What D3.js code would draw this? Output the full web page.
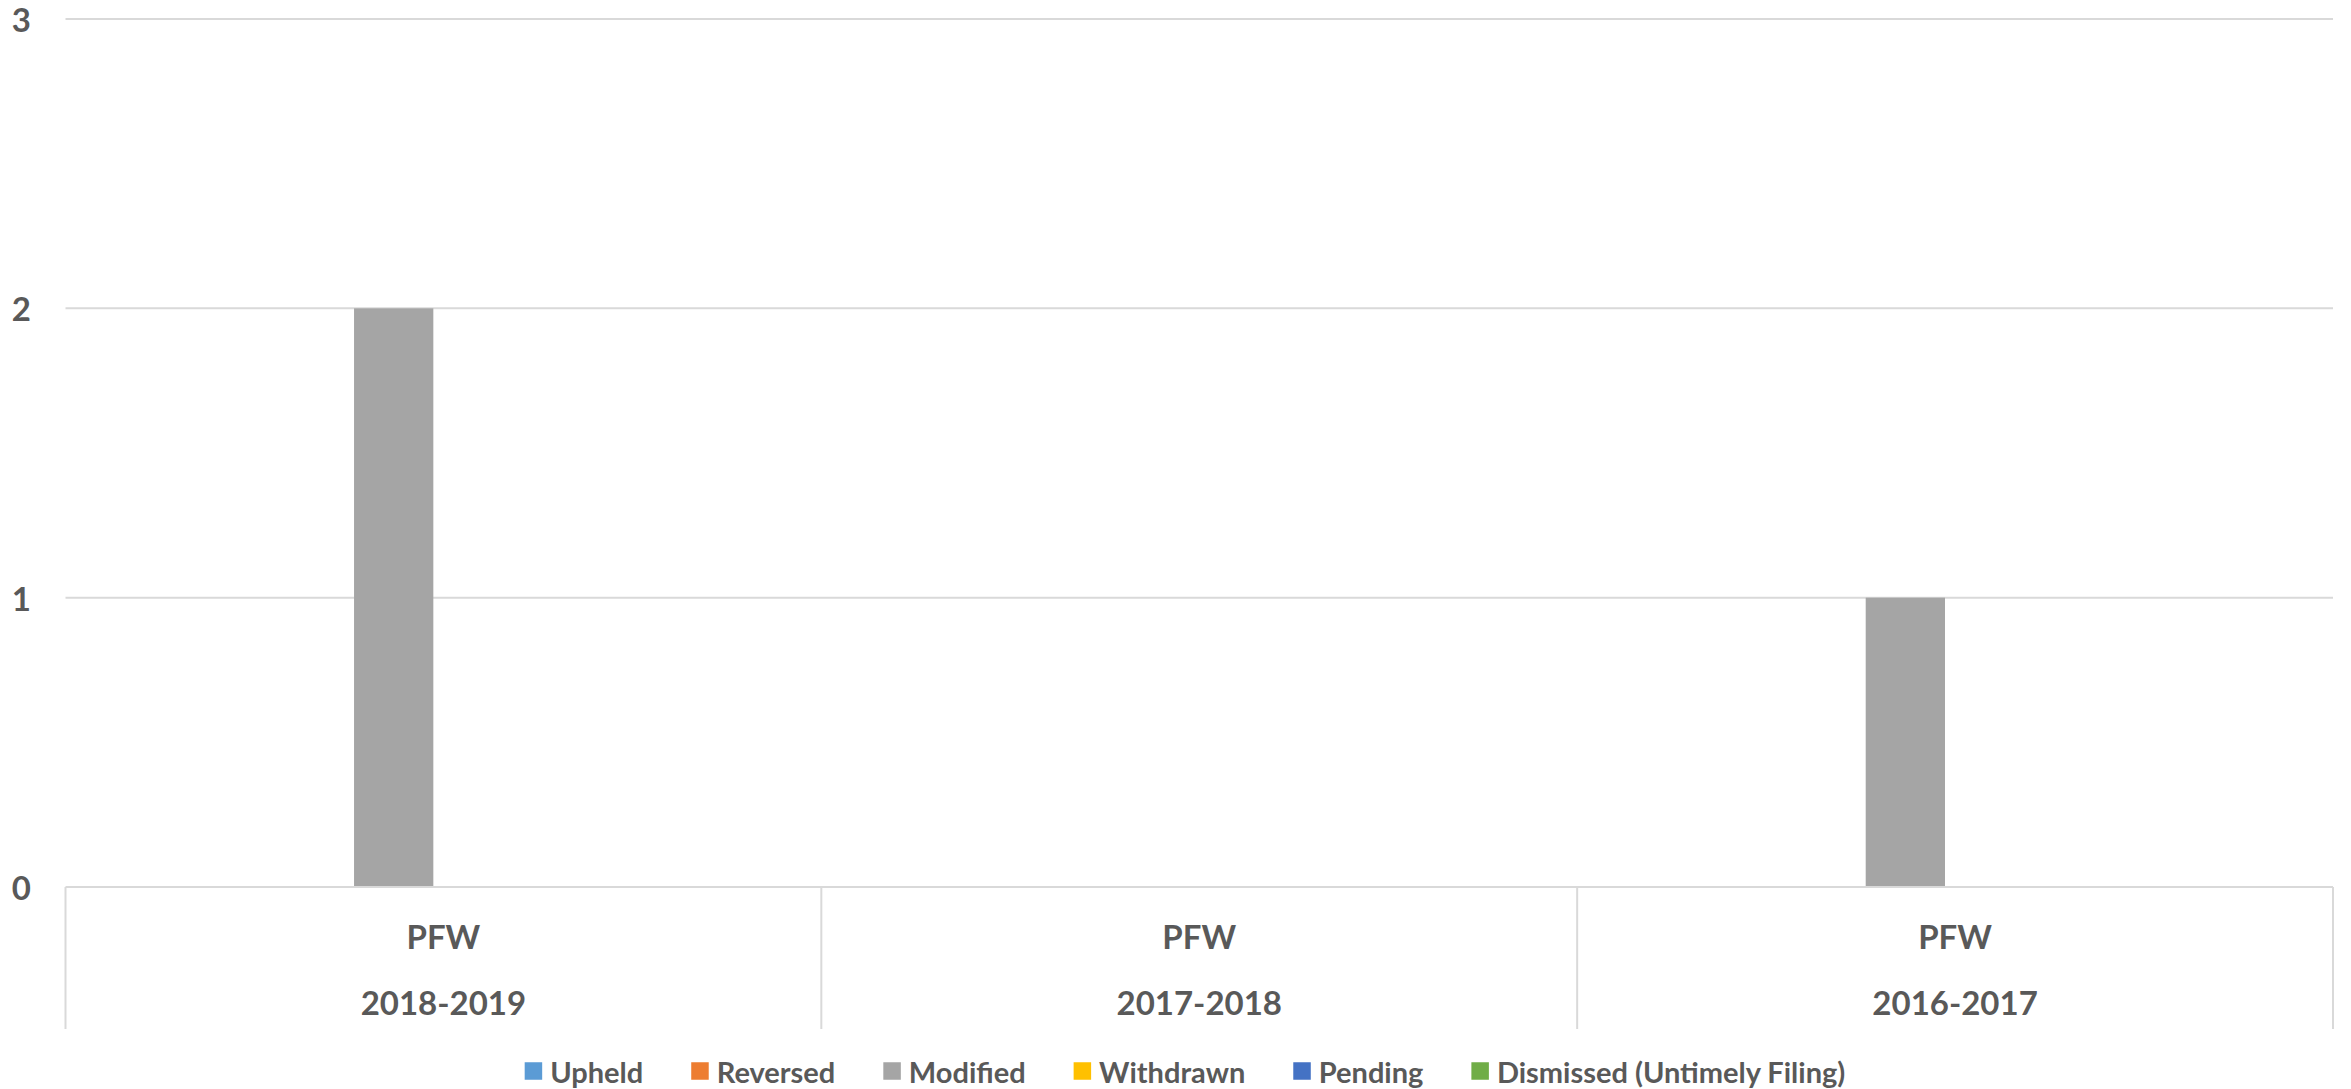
<!DOCTYPE html>
<html><head><meta charset="utf-8">
<script src="https://cdn.jsdelivr.net/npm/d3@7"></script>
<style>
html,body{margin:0;padding:0;background:#fff;}
svg{display:block;}
text{font-family:Lato,"Open Sans",sans-serif;font-weight:bold;fill:#595959;}
</style></head>
<body>
<svg id="chart" width="2351" height="1089"></svg>
<script>
const years = ["2018-2019", "2017-2018", "2016-2017"];
const groupLabel = "PFW";
const seriesNames = ["Upheld", "Reversed", "Modified", "Withdrawn", "Pending", "Dismissed (Untimely Filing)"];
const seriesColors = ["#5b9bd5", "#ed7d31", "#a5a5a5", "#ffc000", "#4472c4", "#70ad47"];
const upheld = [0, 0, 0];
const reversed = [0, 0, 0];
const modified = [2, 0, 1];
const withdrawn = [0, 0, 0];
const pending = [0, 0, 0];
const dismissed = [0, 0, 0];
const yTicks = [0, 1, 2, 3];

const seriesValues = [upheld, reversed, modified, withdrawn, pending, dismissed];

(function () {
const svg = d3.select("#chart");
const pLeft = 65.5, pRight = 2333, pTop = 19, pBottom = 887, catBottom = 1029;
const grid = "#d9d9d9";

const x0 = d3.scaleBand().domain(years).range([pLeft, pRight]).padding(0);
const x1 = d3.scaleBand().domain(seriesNames).range([0, x0.bandwidth()])
  .paddingInner(0).paddingOuter(1.766).align(0.464);
const y = d3.scaleLinear().domain([0, 3]).range([pBottom, pTop]);

// gridlines
svg.append("g").selectAll("line").data(yTicks.filter(t => t > 0)).join("line")
  .attr("x1", pLeft).attr("x2", pRight)
  .attr("y1", d => y(d)).attr("y2", d => y(d))
  .attr("stroke", grid).attr("stroke-width", 2);

// y labels
svg.append("g").selectAll("text").data(yTicks).join("text")
  .attr("x", 31).attr("y", d => y(d))
  .attr("text-anchor", "end").attr("dominant-baseline", "central")
  .style("font-size", "33px").text(d => d);

// bars
const barData = [];
years.forEach((yr, i) => seriesNames.forEach((s, j) => barData.push({yr, s, v: seriesValues[j][i], c: seriesColors[j]})));
svg.append("g").selectAll("rect").data(barData).join("rect")
  .attr("x", d => x0(d.yr) + x1(d.s))
  .attr("width", x1.bandwidth())
  .attr("y", d => y(d.v))
  .attr("height", d => y(0) - y(d.v))
  .attr("fill", d => d.c);

// axis line
svg.append("line").attr("x1", pLeft).attr("x2", pRight).attr("y1", pBottom).attr("y2", pBottom)
  .attr("stroke", grid).attr("stroke-width", 2);

// category separators
const seps = years.map(d => x0(d)).concat([x0(years[years.length - 1]) + x0.bandwidth()]);
svg.append("g").selectAll("line").data(seps).join("line")
  .attr("x1", d => d).attr("x2", d => d)
  .attr("y1", pBottom).attr("y2", catBottom)
  .attr("stroke", grid).attr("stroke-width", 2);

// category labels
const cat = svg.append("g").selectAll("g").data(years).join("g");
cat.append("text")
  .attr("x", d => x0(d) + x0.bandwidth() / 2).attr("y", 936)
  .attr("text-anchor", "middle").attr("dominant-baseline", "central")
  .style("font-size", "33px").text(groupLabel);
cat.append("text")
  .attr("x", d => x0(d) + x0.bandwidth() / 2).attr("y", 1002)
  .attr("text-anchor", "middle").attr("dominant-baseline", "central")
  .style("font-size", "33px").text(d => d);

// legend
const leg = svg.append("g");
const sq = 17.5, gapTxt = 8, gapItem = 48, legY = 1071;
let cx = 0;
seriesNames.forEach((name, i) => {
  const g = leg.append("g");
  g.append("rect").attr("x", 0).attr("y", legY - sq / 2).attr("width", sq).attr("height", sq)
    .attr("fill", seriesColors[i]);
  const t = g.append("text").attr("x", sq + gapTxt).attr("y", legY)
    .attr("dominant-baseline", "central").style("font-size", "29px").text(name);
  const w = sq + gapTxt + t.node().getComputedTextLength();
  g.attr("transform", `translate(${cx},0)`);
  cx += w + gapItem;
});
const total = cx - gapItem;
leg.attr("transform", `translate(${1185 - total / 2},0)`);
})();
</script>
</body></html>
